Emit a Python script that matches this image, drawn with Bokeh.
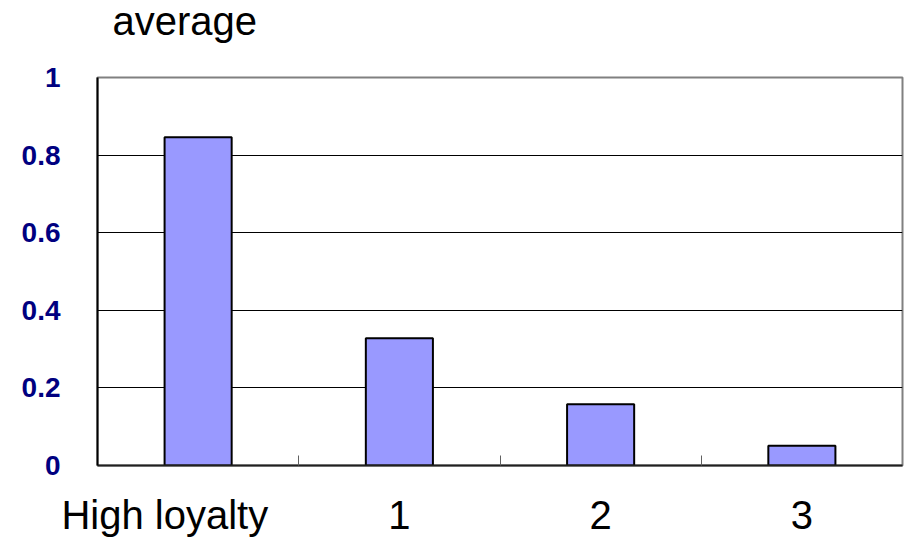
from bokeh.plotting import figure
from bokeh.models import ColumnDataSource, FixedTicker, Range1d
from bokeh.embed import file_html
from bokeh.resources import INLINE

# Chart data
categories = ["High loyalty", "1", "2", "3"]
averages = [0.846, 0.328, 0.158, 0.051]
y_ticks = [0, 0.2, 0.4, 0.6, 0.8, 1]
y_tick_labels = ["0", "0.2", "0.4", "0.6", "0.8", "1"]
y_title = "average"

FONT = "Liberation Sans"

# The canvas is taller than the page and shifted up, so the caption can sit
# close to the page top while the plot area starts at y=77 on the page.
SHIFT = 44

centers = [i + 0.5 for i in range(len(categories))]
boundaries = [i for i in range(1, len(categories))]
source = ColumnDataSource(data=dict(x=centers, top=averages, name=categories))

p = figure(
    width=906, height=542 + SHIFT,
    x_range=Range1d(0, len(categories)),
    y_range=Range1d(0, 1),
    output_backend="svg",
    toolbar_location=None,
    min_border_left=97, min_border_right=4,
    min_border_top=77 + SHIFT, min_border_bottom=77,
    title=y_title,
)
p.styles = {"margin-top": f"-{SHIFT}px"}

p.background_fill_color = "white"
p.border_fill_color = "white"
p.outline_line_color = "#808080"
p.outline_line_width = 2

# Caption
p.title.text_font = FONT
p.title.text_font_size = "40px"
p.title.text_font_style = "normal"
p.title.text_color = "black"
p.title.align = "left"
p.title.vertical_align = "bottom"
p.title.offset = 15
p.title.standoff = 70

# Bars
p.vbar(x="x", top="top", width=1 / 3, source=source,
       fill_color="#9999FF", line_color="black", line_width=2)

# Y axis
p.yaxis.ticker = FixedTicker(ticks=y_ticks)
p.yaxis.major_label_overrides = {t: s for t, s in zip(y_ticks, y_tick_labels)}
p.yaxis.major_label_text_font = FONT
p.yaxis.major_label_text_font_size = "28px"
p.yaxis.major_label_text_font_style = "bold"
p.yaxis.major_label_text_color = "#000080"
p.yaxis.major_label_standoff = 37
p.yaxis.major_tick_in = 0
p.yaxis.major_tick_out = 0
p.yaxis.minor_tick_line_color = None
p.yaxis.axis_line_color = "black"
p.yaxis.axis_line_width = 2

# X axis: category names at bar centres, separators as inward minor ticks;
# the long first name is padded so it sits left of its centre
padded = [categories[0] + "\u00a0" * 6] + categories[1:]
p.xaxis.ticker = FixedTicker(ticks=centers, minor_ticks=boundaries)
p.xaxis.major_label_overrides = {c: n for c, n in zip(centers, padded)}
p.xaxis.major_label_text_font = FONT
p.xaxis.major_label_text_font_size = "40px"
p.xaxis.major_label_text_color = "black"
p.xaxis.major_label_standoff = 21
p.xaxis.major_tick_line_color = None
p.xaxis.minor_tick_in = 10
p.xaxis.minor_tick_out = 0
p.xaxis.minor_tick_line_color = "#606060"
p.xaxis.minor_tick_line_width = 1
p.xaxis.axis_line_color = "#202020"
p.xaxis.axis_line_width = 2

# Grid
p.xgrid.grid_line_color = None
p.ygrid.ticker = FixedTicker(ticks=[0.2, 0.4, 0.6, 0.8])
p.ygrid.grid_line_color = "black"
p.ygrid.grid_line_width = 1

open("out.html", "w").write(file_html(p, INLINE))
